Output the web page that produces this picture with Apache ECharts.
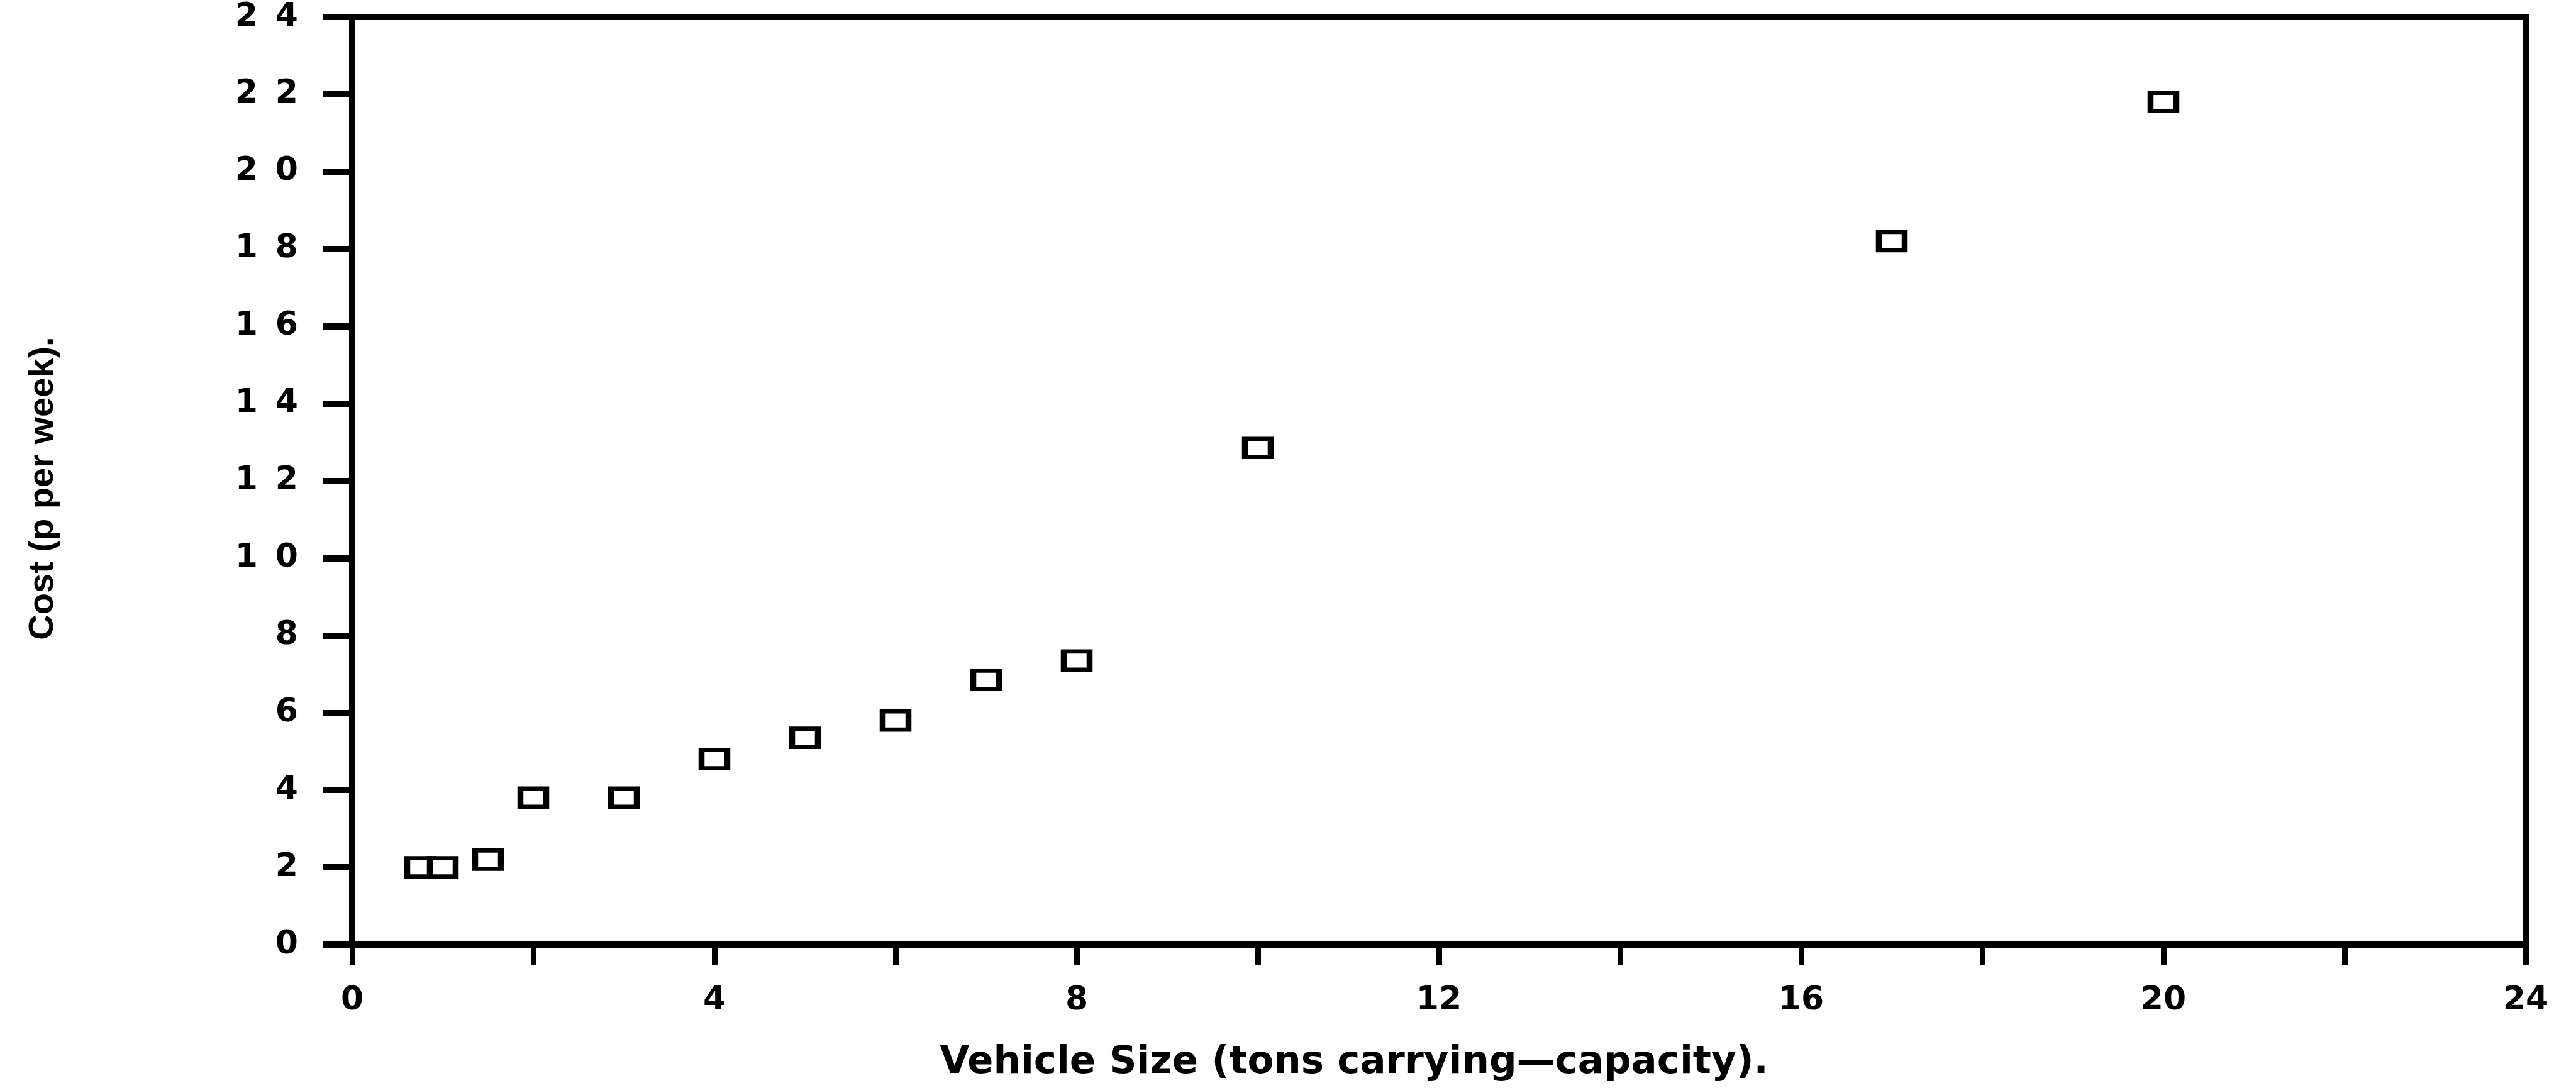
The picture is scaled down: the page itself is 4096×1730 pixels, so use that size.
<!DOCTYPE html>
<html>
<head>
<meta charset="utf-8">
<script src="https://cdn.jsdelivr.net/npm/echarts@6/dist/echarts.min.js"></script>
<style>
html,body{margin:0;padding:0;background:#fff;}
#chart{width:4096px;height:1730px;}
</style>
</head>
<body>
<div id="chart"></div>
<script>
// Data
const vehicleSize = [0.75, 1, 1.5, 2, 3, 4, 5, 6, 7, 8, 10, 17, 20];
const costPerWeek = [2, 2, 2.2, 3.8, 3.8, 4.8, 5.35, 5.8, 6.85, 7.35, 12.85, 18.2, 21.8];
const xTickLabels = [0, 4, 8, 12, 16, 20, 24];
const yTickLabels = [0, 2, 4, 6, 8, 10, 12, 14, 16, 18, 20, 22, 24];
const xTitle = 'Vehicle Size (tons carrying\u2014capacity).';
const yTitle = 'Cost (p per week).';

const points = vehicleSize.map((x, i) => [x, costPerWeek[i]]);

const chart = echarts.init(document.getElementById('chart'));
chart.setOption({
  backgroundColor: '#fff',
  animation: false,
  grid: {
    left: 560, right: 80, top: 27, bottom: 228,
    show: true, borderColor: '#000', borderWidth: 10
  },
  xAxis: {
    type: 'value', min: 0, max: 24, interval: 2,
    name: xTitle, nameLocation: 'middle', nameGap: 158,
    nameTextStyle: { fontFamily: '"DejaVu Sans", sans-serif', fontWeight: 'bold', fontSize: 61, color: '#000', padding: [0, 270, 0, 0] },
    axisLine: { show: true, onZero: false, lineStyle: { color: '#000', width: 11 } },
    axisTick: { show: true, inside: false, length: 33, lineStyle: { color: '#000', width: 9 } },
    axisLabel: {
      margin: 63, color: '#000', fontFamily: '"DejaVu Sans", sans-serif', fontWeight: 'bold', fontSize: 52,
      formatter: v => xTickLabels.includes(v) ? String(v) : ''
    },
    splitLine: { show: false }
  },
  yAxis: {
    type: 'value', min: 0, max: 24, interval: 2,
    name: yTitle, nameLocation: 'middle', nameGap: 463, nameRotate: 90,
    nameTextStyle: { fontFamily: '"Liberation Sans", sans-serif', fontWeight: 'bold', fontSize: 56, color: '#000', padding: [0, 24, 0, 0] },
    axisLine: { show: true, onZero: false, lineStyle: { color: '#000', width: 10 } },
    axisTick: { show: true, inside: false, length: 47, lineStyle: { color: '#000', width: 10 } },
    axisLabel: {
      margin: 72, color: '#000',
      formatter: v => yTickLabels.includes(v) ? String(v).split('').map(d => '{d|' + d + '}').join('') : '',
      rich: { d: { fontFamily: '"DejaVu Sans", sans-serif', fontWeight: 'bold', fontSize: 52, color: '#000', padding: [0, 14, 0, 14] } }
    },
    splitLine: { show: false }
  },
  series: [{
    type: 'scatter',
    data: points,
    symbol: 'rect',
    symbolSize: [41, 29],
    itemStyle: { color: '#fff', borderColor: '#000', borderWidth: 8, opacity: 1 }
  }]
});
</script>
</body>
</html>
